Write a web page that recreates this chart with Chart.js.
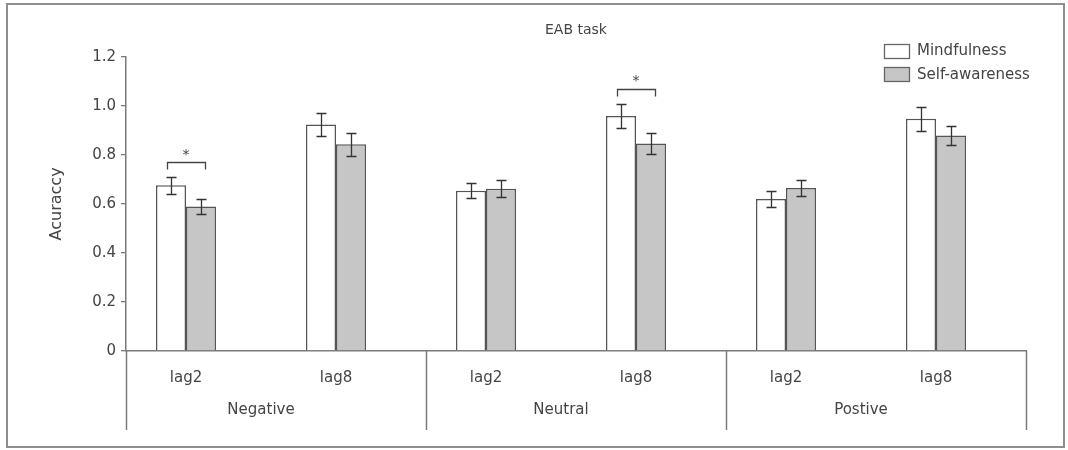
<!DOCTYPE html>
<html>
<head>
<meta charset="utf-8">
<script src="https://cdn.jsdelivr.net/npm/chart.js@4.4.1/dist/chart.umd.min.js"></script>
<style>
html,body{margin:0;padding:0;background:#fff;}
#wrap{position:relative;width:1068px;height:450px;}
#frame{position:absolute;left:6px;top:3px;width:1059px;height:445px;border:2px solid #8e8e8e;box-sizing:border-box;}
canvas{position:absolute;left:0;top:0;}
</style>
</head>
<body>
<div id="wrap"><div id="frame"></div><canvas id="c" width="1068" height="450"></canvas></div>
<script>
// ---- data ----
const lagLabels = ['lag2', 'lag8', 'lag2', 'lag8', 'lag2', 'lag8'];
const groupLabels = ['Negative', 'Neutral', 'Postive'];
const groupCenters = [0.5, 2.5, 4.5];
const groupBounds = [-0.4, 1.6, 3.6, 5.6];
const mindfulness = [0.676, 0.924, 0.654, 0.959, 0.620, 0.947];
const mindfulnessErr = [0.034, 0.047, 0.030, 0.049, 0.033, 0.050];
const selfAwareness = [0.589, 0.843, 0.662, 0.846, 0.665, 0.879];
const selfAwarenessErr = [0.031, 0.046, 0.034, 0.043, 0.033, 0.040];
const sigCats = [0, 3];
const sigBracketY = [0.770, 1.069];
const sigDrop = 0.028;
const sigStarY = [0.812, 1.112];
const sigHalf = 0.125;
const yTickValues = [0, 0.2, 0.4, 0.6, 0.8, 1.0, 1.2];

const FONT = 'DejaVu Sans';
const TEXT = '#444';
const AXIS = '#7a7a7a';

Chart.defaults.font.family = FONT;
Chart.defaults.color = TEXT;

const errorBarPlugin = {
  id: 'errorBars',
  afterDatasetsDraw(chart) {
    const ctx = chart.ctx, y = chart.scales.y;
    ctx.save();
    ctx.strokeStyle = '#333';
    ctx.lineWidth = 1.3;
    chart.data.datasets.forEach((ds, di) => {
      const meta = chart.getDatasetMeta(di);
      meta.data.forEach((bar, i) => {
        const v = ds.data[i].y, e = ds.errors[i];
        const top = Math.round(y.getPixelForValue(v + e)) + 0.5;
        const bot = Math.round(y.getPixelForValue(v - e)) + 0.5;
        const x = Math.round(bar.x) + 0.5;
        ctx.beginPath();
        ctx.moveTo(x, top); ctx.lineTo(x, bot);
        ctx.moveTo(x - 5, top); ctx.lineTo(x + 5, top);
        ctx.moveTo(x - 5, bot); ctx.lineTo(x + 5, bot);
        ctx.stroke();
      });
    });
    ctx.restore();
  }
};

const sigPlugin = {
  id: 'sig',
  afterDatasetsDraw(chart) {
    const ctx = chart.ctx, x = chart.scales.x, y = chart.scales.y;
    ctx.save();
    ctx.strokeStyle = '#444';
    ctx.lineWidth = 1.3;
    ctx.fillStyle = '#444';
    ctx.font = '14px "' + FONT + '"';
    ctx.textAlign = 'center';
    ctx.textBaseline = 'middle';
    sigCats.forEach((c, k) => {
      const x1 = Math.round(x.getPixelForValue(c - sigHalf)) + 0.5;
      const x2 = Math.round(x.getPixelForValue(c + sigHalf)) + 0.5;
      const yt = Math.round(y.getPixelForValue(sigBracketY[k])) + 0.5;
      const yb = Math.round(y.getPixelForValue(sigBracketY[k] - sigDrop)) + 0.5;
      ctx.beginPath();
      ctx.moveTo(x1, yb); ctx.lineTo(x1, yt); ctx.lineTo(x2, yt); ctx.lineTo(x2, yb);
      ctx.stroke();
      ctx.fillText('*', x.getPixelForValue(c), y.getPixelForValue(sigStarY[k]) + 3);
    });
    ctx.restore();
  }
};

const dividerPlugin = {
  id: 'dividers',
  afterDraw(chart) {
    const ctx = chart.ctx, xs = chart.scales.x, x2 = chart.scales.x2;
    const top = chart.chartArea.bottom;
    const bottom = x2.bottom - 6;
    ctx.save();
    ctx.strokeStyle = AXIS;
    ctx.lineWidth = 1.5;
    groupBounds.forEach(b => {
      const px = Math.round(xs.getPixelForValue(b)) + 0.5;
      ctx.beginPath();
      ctx.moveTo(px, top); ctx.lineTo(px, bottom);
      ctx.stroke();
    });
    ctx.restore();
  }
};

const legendPlugin = {
  id: 'customLegend',
  afterDraw(chart) {
    const ctx = chart.ctx, ca = chart.chartArea;
    const bx = ca.right - 142, by = ca.top - 13;
    ctx.save();
    ctx.font = '15px "' + FONT + '"';
    ctx.textAlign = 'left';
    ctx.textBaseline = 'middle';
    chart.data.datasets.forEach((ds, i) => {
      const yy = by + i * 23.5;
      ctx.fillStyle = ds.backgroundColor;
      ctx.fillRect(bx, yy, 25, 14);
      ctx.strokeStyle = '#666';
      ctx.lineWidth = 1.3;
      ctx.strokeRect(Math.round(bx) + 0.5, Math.round(yy) + 0.5, 25, 14);
      ctx.fillStyle = TEXT;
      ctx.fillText(ds.label, bx + 33, yy + 7.5);
    });
    ctx.restore();
  }
};

new Chart(document.getElementById('c'), {
  type: 'bar',
  data: {
    datasets: [
      {
        label: 'Mindfulness',
        data: mindfulness.map((v, i) => ({ x: i, y: v })),
        errors: mindfulnessErr,
        backgroundColor: '#ffffff',
        borderColor: '#555',
        borderWidth: 1.5,
        categoryPercentage: 0.4,
        barPercentage: 1.0
      },
      {
        label: 'Self-awareness',
        data: selfAwareness.map((v, i) => ({ x: i, y: v })),
        errors: selfAwarenessErr,
        backgroundColor: '#c6c6c6',
        borderColor: '#555',
        borderWidth: 1.5,
        categoryPercentage: 0.4,
        barPercentage: 1.0
      }
    ]
  },
  options: {
    responsive: false,
    animation: false,
    layout: { padding: { top: 5, left: 0, right: 42, bottom: 14 } },
    plugins: {
      legend: { display: false },
      tooltip: { enabled: false },
      title: {
        display: true,
        text: 'EAB task',
        fullSize: false,
        color: TEXT,
        font: { size: 14, weight: 'normal', family: FONT },
        padding: { top: 17, bottom: 18 }
      }
    },
    scales: {
      x: {
        type: 'linear',
        position: 'bottom',
        weight: 0,
        min: groupBounds[0],
        max: groupBounds[groupBounds.length - 1],
        offset: false,
        afterBuildTicks: s => { s.ticks = lagLabels.map((_, i) => ({ value: i })); },
        afterFit: s => { s.height = 45; },
        ticks: {
          autoSkip: false,
          maxRotation: 0,
          padding: 18,
          color: TEXT,
          font: { size: 15 },
          callback: (v) => lagLabels[Math.round(v)]
        },
        grid: { display: false, drawTicks: false, offset: false },
        border: { display: true, color: AXIS, width: 1.5 }
      },
      x2: {
        type: 'linear',
        position: 'bottom',
        weight: 1,
        min: groupBounds[0],
        max: groupBounds[groupBounds.length - 1],
        offset: false,
        afterBuildTicks: s => { s.ticks = groupCenters.map(v => ({ value: v })); },
        afterFit: s => { s.height = 40; },
        ticks: {
          autoSkip: false,
          maxRotation: 0,
          padding: 5,
          color: TEXT,
          font: { size: 15 },
          callback: (v) => groupLabels[groupCenters.indexOf(v)]
        },
        grid: { display: false, drawTicks: false },
        border: { display: false }
      },
      y: {
        min: 0,
        max: 1.2,
        afterBuildTicks: s => { s.ticks = yTickValues.map(v => ({ value: v })); },
        afterFit: s => { s.width = 126; },
        ticks: {
          padding: 5,
          color: TEXT,
          font: { size: 15 },
          callback: v => (v === 0 ? '0' : v.toFixed(1))
        },
        grid: { display: true, drawOnChartArea: false, drawTicks: true, tickLength: 5, color: AXIS, lineWidth: 1.3 },
        border: { display: true, color: AXIS, width: 1.5 },
        title: {
          display: true,
          text: 'Acuraccy',
          color: TEXT,
          font: { size: 16, family: FONT },
          padding: { top: 47, bottom: 0 }
        }
      }
    }
  },
  plugins: [errorBarPlugin, sigPlugin, dividerPlugin, legendPlugin]
});
</script>
</body>
</html>
